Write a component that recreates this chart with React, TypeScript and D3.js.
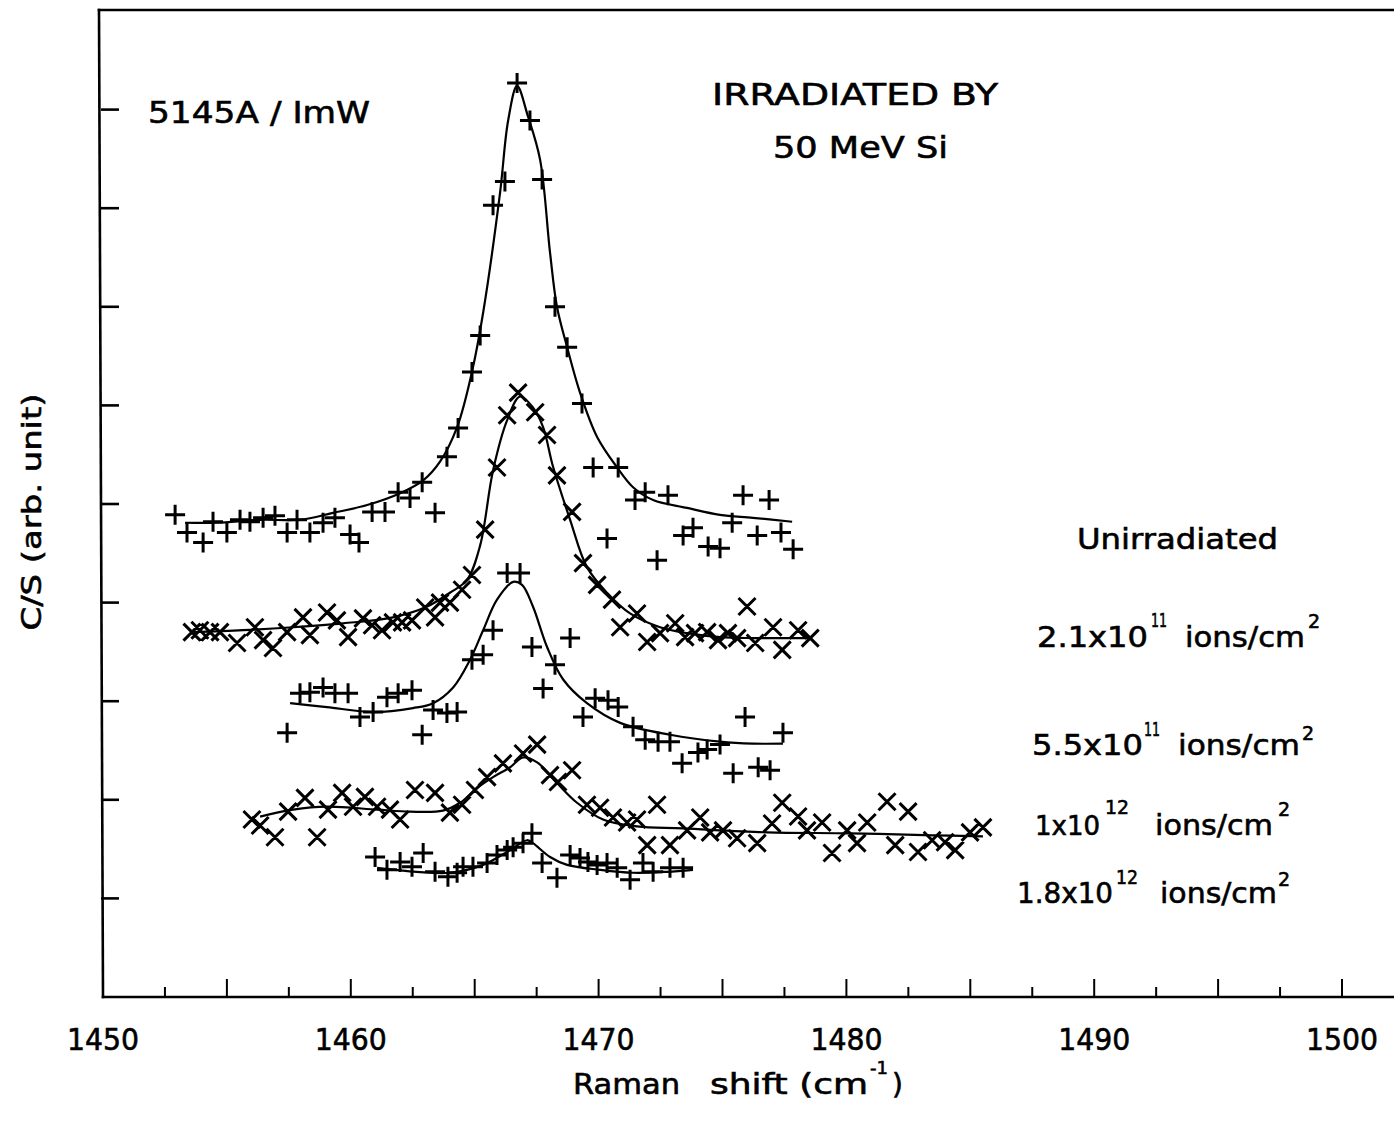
import React from "react";
import * as d3 from "d3";

// ---------- data (Raman shift in cm^-1, C/S in arbitrary units) ----------
const unirradiated: [number, number][] = [
  [1452.91, 4.89], [1453.39, 4.71], [1454.04, 4.61], [1454.44, 4.82], [1455.0, 4.71],
  [1455.53, 4.84], [1455.93, 4.82], [1456.46, 4.86], [1456.94, 4.88], [1457.43, 4.71],
  [1457.83, 4.84], [1458.35, 4.71], [1458.88, 4.81], [1459.36, 4.86], [1459.97, 4.69],
  [1460.33, 4.61], [1460.86, 4.92], [1461.38, 4.92], [1461.91, 5.12], [1462.39, 5.06],
  [1462.88, 5.22], [1463.4, 4.91], [1463.88, 5.48], [1464.33, 5.77], [1464.89, 6.34],
  [1465.22, 6.71], [1465.74, 8.03], [1466.22, 8.27], [1466.71, 9.27], [1467.23, 8.89],
  [1467.72, 8.29], [1468.24, 7.0], [1468.73, 6.59], [1469.33, 6.02], [1469.78, 5.37],
  [1470.34, 4.65], [1470.79, 5.37], [1471.47, 5.04], [1471.88, 5.12], [1472.36, 4.43],
  [1472.8, 5.09], [1473.41, 4.68], [1473.81, 4.76], [1474.42, 4.57], [1474.9, 4.55],
  [1475.39, 4.81], [1475.83, 5.09], [1476.4, 4.68], [1476.88, 5.04], [1477.36, 4.71],
  [1477.85, 4.54],
];
const unirradiatedFit: [number, number][] = [
  [1453.31, 4.81], [1454.6, 4.81], [1456.34, 4.84], [1457.95, 4.84], [1459.28, 4.91],
  [1460.66, 4.99], [1461.99, 5.11], [1462.92, 5.24], [1463.6, 5.43], [1464.29, 5.78],
  [1464.89, 6.34], [1465.34, 6.94], [1466.02, 8.15], [1466.35, 8.89], [1466.71, 9.24],
  [1467.15, 8.93], [1467.64, 8.49], [1468.04, 7.55], [1468.32, 7.0], [1468.73, 6.59],
  [1469.25, 6.13], [1469.94, 5.68], [1470.75, 5.37], [1471.39, 5.17], [1472.2, 5.04],
  [1473.57, 4.96], [1474.9, 4.89], [1476.23, 4.86], [1477.81, 4.82],
];

const fluence21e11: [number, number][] = [
  [1453.59, 3.7], [1453.91, 3.72], [1454.32, 3.7], [1454.72, 3.7], [1455.41, 3.59],
  [1456.13, 3.75], [1456.46, 3.62], [1456.86, 3.54], [1457.43, 3.7], [1458.07, 3.85],
  [1458.35, 3.67], [1459.04, 3.9], [1459.44, 3.82], [1459.89, 3.65], [1460.49, 3.84],
  [1460.86, 3.77], [1461.26, 3.72], [1461.7, 3.8], [1462.07, 3.8], [1462.47, 3.82],
  [1463.0, 3.95], [1463.4, 3.85], [1463.6, 4.0], [1464.0, 4.0], [1464.49, 4.13],
  [1464.89, 4.28], [1465.42, 4.74], [1465.9, 5.37], [1466.31, 5.9], [1466.75, 6.13],
  [1467.44, 5.93], [1467.92, 5.7], [1468.32, 5.29], [1468.93, 4.92], [1469.37, 4.4],
  [1469.94, 4.18], [1470.54, 4.03], [1470.87, 3.75], [1471.55, 3.89], [1471.96, 3.6],
  [1472.48, 3.69], [1473.09, 3.79], [1473.49, 3.65], [1473.89, 3.69], [1474.38, 3.7],
  [1474.82, 3.62], [1475.22, 3.69], [1475.59, 3.64], [1475.99, 3.96], [1476.32, 3.59],
  [1477.04, 3.75], [1477.41, 3.52], [1478.05, 3.72], [1478.54, 3.64],
];
const fluence21e11Fit: [number, number][] = [
  [1453.59, 3.7], [1455.65, 3.72], [1457.67, 3.75], [1459.69, 3.79], [1461.7, 3.85],
  [1463.08, 3.96], [1464.0, 4.1], [1464.69, 4.23], [1465.22, 4.58], [1465.74, 5.34],
  [1466.31, 5.85], [1466.83, 6.09], [1467.35, 5.98], [1467.76, 5.78], [1468.16, 5.38],
  [1468.85, 4.84], [1469.53, 4.36], [1470.34, 4.1], [1471.27, 3.89], [1472.48, 3.75],
  [1473.57, 3.69], [1474.9, 3.65], [1476.23, 3.64], [1478.54, 3.64],
];

const fluence55e11: [number, number][] = [
  [1457.43, 2.68], [1457.95, 3.08], [1458.35, 3.09], [1458.88, 3.14], [1459.36, 3.08],
  [1459.89, 3.08], [1460.37, 2.84], [1460.9, 2.89], [1461.46, 3.04], [1461.91, 3.08],
  [1462.47, 3.11], [1462.88, 2.66], [1463.32, 2.91], [1463.88, 2.88], [1464.29, 2.89],
  [1464.89, 3.42], [1465.34, 3.47], [1465.74, 3.72], [1466.31, 4.3], [1466.83, 4.3],
  [1467.31, 3.55], [1467.76, 3.13], [1468.24, 3.37], [1468.85, 3.64], [1469.37, 2.84],
  [1469.86, 3.03], [1470.38, 3.01], [1470.79, 2.94], [1471.39, 2.74], [1471.88, 2.61],
  [1472.4, 2.59], [1472.88, 2.59], [1473.37, 2.37], [1474.01, 2.48], [1474.38, 2.51],
  [1474.9, 2.56], [1475.43, 2.27], [1475.91, 2.84], [1476.44, 2.33], [1476.92, 2.3],
  [1477.44, 2.68],
];
const fluence55e11Fit: [number, number][] = [
  [1457.55, 2.98], [1459.04, 2.94], [1460.9, 2.89], [1462.51, 2.93], [1463.32, 2.98],
  [1464.13, 3.14], [1464.81, 3.42], [1465.34, 3.72], [1465.9, 4.03], [1466.55, 4.21],
  [1466.91, 4.18], [1467.35, 3.96], [1467.92, 3.55], [1468.57, 3.22], [1469.53, 2.98],
  [1470.87, 2.78], [1472.88, 2.66], [1474.9, 2.59], [1476.23, 2.57], [1477.44, 2.57],
];

const fluence1e12: [number, number][] = [
  [1456.01, 1.8], [1456.34, 1.74], [1456.94, 1.62], [1457.47, 1.88], [1458.15, 2.02],
  [1458.64, 1.62], [1459.08, 1.9], [1459.65, 2.07], [1460.09, 1.93], [1460.57, 2.03],
  [1461.06, 1.93], [1461.58, 1.9], [1461.99, 1.8], [1462.59, 2.1], [1463.4, 2.07],
  [1464.0, 1.87], [1464.49, 1.95], [1465.01, 2.1], [1465.5, 2.23], [1466.14, 2.37],
  [1466.95, 2.47], [1467.52, 2.56], [1468.04, 2.25], [1468.36, 2.18], [1468.93, 2.3],
  [1469.53, 1.95], [1470.06, 1.92], [1470.58, 1.82], [1471.15, 1.77], [1471.55, 1.8],
  [1471.96, 1.54], [1472.36, 1.95], [1472.88, 1.54], [1473.57, 1.69], [1474.1, 1.82],
  [1474.5, 1.67], [1475.02, 1.69], [1475.59, 1.61], [1476.4, 1.56], [1477.0, 1.76],
  [1477.41, 1.97], [1478.05, 1.83], [1478.41, 1.69], [1479.02, 1.77], [1479.42, 1.46],
  [1480.03, 1.69], [1480.43, 1.56], [1480.84, 1.77], [1481.64, 1.98], [1481.97, 1.54],
  [1482.49, 1.88], [1482.89, 1.47], [1483.46, 1.59], [1483.98, 1.57], [1484.39, 1.49],
  [1484.99, 1.67], [1485.51, 1.72],
];
const fluence1e12Fit: [number, number][] = [
  [1456.34, 1.83], [1457.67, 1.9], [1459.04, 1.93], [1461.06, 1.9], [1462.39, 1.88],
  [1463.72, 1.89], [1464.41, 1.97], [1465.1, 2.12], [1465.74, 2.23], [1466.43, 2.33],
  [1466.95, 2.43], [1467.52, 2.38], [1468.32, 2.17], [1469.13, 1.97], [1470.18, 1.8],
  [1471.55, 1.73], [1473.41, 1.71], [1476.8, 1.67], [1480.15, 1.66], [1483.5, 1.64],
  [1485.51, 1.63],
];

const fluence18e12: [number, number][] = [
  [1460.98, 1.42], [1461.46, 1.29], [1461.99, 1.37], [1462.47, 1.32], [1462.92, 1.46],
  [1463.4, 1.27], [1463.92, 1.22], [1464.29, 1.26], [1464.53, 1.32], [1464.93, 1.32],
  [1465.5, 1.36], [1465.9, 1.44], [1466.31, 1.49], [1466.55, 1.52], [1466.95, 1.56],
  [1467.31, 1.66], [1467.72, 1.36], [1468.32, 1.21], [1468.85, 1.44], [1469.25, 1.41],
  [1469.57, 1.37], [1469.94, 1.34], [1470.34, 1.36], [1470.75, 1.31], [1471.27, 1.19],
  [1471.79, 1.36], [1472.2, 1.27], [1472.88, 1.31], [1473.41, 1.31],
];
const fluence18e12Fit: [number, number][] = [
  [1461.06, 1.31], [1462.67, 1.27], [1464.0, 1.26], [1465.34, 1.34], [1466.43, 1.49],
  [1467.11, 1.59], [1467.35, 1.56], [1468.04, 1.42], [1468.73, 1.34], [1470.06, 1.29],
  [1471.39, 1.26], [1472.76, 1.27], [1473.81, 1.29],
];

const markerKinds = ["plus", "cross", "plus", "cross", "plus"];
const xTickLabels = [1450, 1460, 1470, 1480, 1490, 1500];
const yTickValues = [1, 2, 3, 4, 5, 6, 7, 8, 9];
const topNotes = ["5145A / ImW", "IRRADIATED BY", "50 MeV Si"];
const unirradiatedLabel = "Unirradiated";
const fluenceBases = ["2.1x10", "5.5x10", "1x10", "1.8x10"];
const fluenceExponents = ["11", "11", "12", "12"];
const unitText = "ions/cm";
const unitExponent = "2";
const yTitle = "C/S (arb. unit)";
const xTitleWords = ["Raman", "shift (cm"];
const xTitleExp = "-1";

// ---------- layout ----------
const W = 1394;
const H = 1125;
const FONT = "'DejaVu Sans', 'Liberation Sans', sans-serif";

const x = d3.scaleLinear().domain([1450, 1500]).range([103, 1342]);
const y = d3.scaleLinear().domain([0, 10]).range([997, 11]);

const series = [
  { pts: unirradiated, fit: unirradiatedFit },
  { pts: fluence21e11, fit: fluence21e11Fit },
  { pts: fluence55e11, fit: fluence55e11Fit },
  { pts: fluence1e12, fit: fluence1e12Fit },
  { pts: fluence18e12, fit: fluence18e12Fit },
];

const fitLine = d3
  .line<[number, number]>()
  .x((d) => x(d[0]))
  .y((d) => y(d[1]))
  .curve(d3.curveCatmullRom.alpha(0.5));

function markerPath(kind: string, cx: number, cy: number) {
  if (kind === "plus") {
    const a = 10;
    return `M${cx - a},${cy}h${2 * a}M${cx},${cy - a}v${2 * a}`;
  }
  const b = 8.5;
  return `M${cx - b},${cy - b}l${2 * b},${2 * b}M${cx - b},${cy + b}l${2 * b},${-2 * b}`;
}

// label rows: [baseX, baseLen, baseline, expX, expLen, expBaseline, unitX, unitLen, unitExpX, unitExpBaseline, baseFont]
const fluenceLayout = [
  [1037, 111, 647, 1151, 16, 627, 1185, 120, 1308, 628, 29],
  [1032, 111, 755, 1144, 16, 736, 1178, 122, 1302, 740, 29],
  [1035, 65, 835, 1105, 24, 814, 1155, 118, 1278, 816, 26],
  [1017, 96, 903, 1116, 22, 884, 1160, 117, 1278, 886, 28],
];

const textStroke = { stroke: "#000", strokeWidth: 0.6 };

export default function App() {
  const majorTicks = d3.range(1455, 1500.1, 5);
  const minorTicks = d3.range(1452.5, 1500, 5);
  return (
    <svg
      width={W}
      height={H}
      viewBox={`0 0 ${W} ${H}`}
      style={{ position: "absolute", left: 0, top: 0, background: "#fff" }}
      fontFamily={FONT}
    >
      <rect x={0} y={0} width={W} height={H} fill="#fff" />
      {/* frame */}
      <g stroke="#000" strokeWidth={2.6} fill="none" strokeLinecap="square">
        <line x1={x(1450)} y1={y(0)} x2={W} y2={y(0)} />
        <line x1={x(1450)} y1={y(0)} x2={x(1450) - 4} y2={10} />
        <line x1={x(1450) - 4} y1={10} x2={W} y2={10} />
      </g>
      {/* y ticks */}
      <g stroke="#000" strokeWidth={2.6}>
        {yTickValues.map((v) => (
          <line key={v} x1={x(1450) - 2} x2={x(1450) + 16} y1={y(v)} y2={y(v)} />
        ))}
      </g>
      {/* x ticks */}
      <g stroke="#000" strokeWidth={2}>
        {majorTicks.map((v) => (
          <line key={"M" + v} x1={x(v)} x2={x(v)} y1={y(0)} y2={y(0) - 18} />
        ))}
        {minorTicks.map((v) => (
          <line key={"m" + v} x1={x(v)} x2={x(v)} y1={y(0)} y2={y(0) - 10} />
        ))}
      </g>
      <g fill="#000" {...textStroke}>
        {/* x tick labels */}
        <g fontSize={30} textAnchor="middle">
          {xTickLabels.map((v) => (
            <text key={v} x={x(v)} y={1050} textLength={72} lengthAdjust="spacingAndGlyphs">
              {v}
            </text>
          ))}
        </g>
        {/* axis titles */}
        <text x={573} y={1094} fontSize={28} textLength={107} lengthAdjust="spacingAndGlyphs">
          {xTitleWords[0]}
        </text>
        <text x={710} y={1094} fontSize={28} textLength={158} lengthAdjust="spacingAndGlyphs">
          {xTitleWords[1]}
        </text>
        <text x={870} y={1074} fontSize={18} textLength={18} lengthAdjust="spacingAndGlyphs">
          {xTitleExp}
        </text>
        <text x={892} y={1094} fontSize={28}>
          )
        </text>
        <text
          transform="translate(41,512) rotate(-90)"
          textAnchor="middle"
          fontSize={27}
          textLength={237}
          lengthAdjust="spacingAndGlyphs"
        >
          {yTitle}
        </text>
        {/* notes */}
        <text x={148} y={123} fontSize={30} textLength={222} lengthAdjust="spacingAndGlyphs">
          {topNotes[0]}
        </text>
        <text x={712} y={105} fontSize={30} textLength={286} lengthAdjust="spacingAndGlyphs">
          {topNotes[1]}
        </text>
        <text x={773} y={158} fontSize={30} textLength={175} lengthAdjust="spacingAndGlyphs">
          {topNotes[2]}
        </text>
        <text x={1077} y={549} fontSize={29} textLength={201} lengthAdjust="spacingAndGlyphs">
          {unirradiatedLabel}
        </text>
        {fluenceBases.map((b, i) => {
          const L = fluenceLayout[i];
          return (
            <g key={b}>
              <text x={L[0]} y={L[2]} fontSize={L[10]} textLength={L[1]} lengthAdjust="spacingAndGlyphs">
                {b}
              </text>
              <text x={L[3]} y={L[5]} fontSize={19} textLength={L[4]} lengthAdjust="spacingAndGlyphs">
                {fluenceExponents[i]}
              </text>
              <text x={L[6]} y={L[2]} fontSize={29} textLength={L[7]} lengthAdjust="spacingAndGlyphs">
                {unitText}
              </text>
              <text x={L[8]} y={L[9]} fontSize={19}>
                {unitExponent}
              </text>
            </g>
          );
        })}
      </g>
      {/* fitted curves */}
      <g fill="none" stroke="#000" strokeWidth={2.2}>
        {series.map((s, i) => (
          <path key={i} d={fitLine(s.fit) || ""} />
        ))}
      </g>
      {/* data markers */}
      <g fill="none" stroke="#000" strokeWidth={3}>
        {series.map((s, i) => (
          <path
            key={i}
            d={s.pts.map((p) => markerPath(markerKinds[i], x(p[0]), y(p[1]))).join("")}
          />
        ))}
      </g>
    </svg>
  );
}
